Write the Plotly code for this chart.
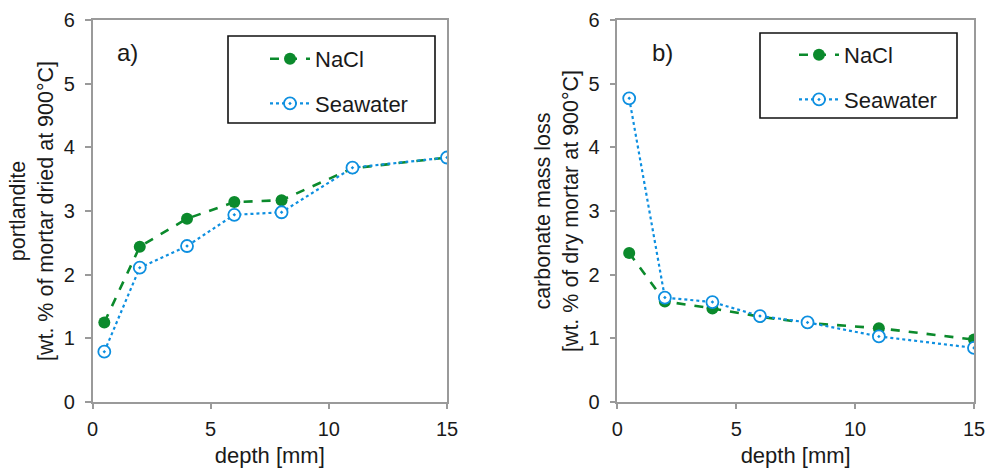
import plotly.graph_objects as go

# depth of each sampled layer [mm]
depth = [0.5, 2, 4, 6, 8, 11, 15]

# a) portlandite content [wt. % of mortar dried at 900 °C]
portlandite_nacl = [1.25, 2.44, 2.88, 3.14, 3.17, 3.67, 3.84]
portlandite_sea = [0.79, 2.11, 2.45, 2.94, 2.98, 3.68, 3.84]

# b) carbonate mass loss [wt. % of dry mortar at 900 °C]
carbonate_nacl = [2.34, 1.58, 1.47, 1.34, 1.24, 1.16, 0.98]
carbonate_sea = [4.77, 1.64, 1.57, 1.35, 1.25, 1.03, 0.85]

x_ticks = [0, 5, 10, 15]
y_ticks = [0, 1, 2, 3, 4, 5, 6]

GREEN = "#0b8a2c"
BLUE = "#0d8fe0"
AXIS = "#9a9a9a"
TEXT = "#1a1a1a"
FONT = "Liberation Sans, Arial, sans-serif"

fig = go.Figure()


def add_pair(nacl, sea, xa, ya, legend):
    fig.add_trace(go.Scatter(
        x=depth, y=nacl, name="NaCl", mode="lines+markers",
        line=dict(color=GREEN, width=2.6, dash="dash"),
        marker=dict(symbol="circle", size=12, color=GREEN),
        xaxis=xa, yaxis=ya, legend=legend, legendgroup=legend + "n",
    ))
    fig.add_trace(go.Scatter(
        x=depth, y=sea, name="Seawater", mode="lines+markers",
        line=dict(color=BLUE, width=2.2, dash="dot"),
        marker=dict(symbol="circle-dot", size=12, color="white",
                    line=dict(color=BLUE, width=1.8)),
        xaxis=xa, yaxis=ya, legend=legend, legendgroup=legend + "s",
    ))


add_pair(portlandite_nacl, portlandite_sea, "x", "y", "legend")
add_pair(carbonate_nacl, carbonate_sea, "x2", "y2", "legend2")

y_dom = [66 / 468, 448 / 468]
tick_font = dict(size=20, color=TEXT, family=FONT)
title_font = dict(size=22, color=TEXT, family=FONT)
ytitle_font = dict(size=21.5, color=TEXT, family=FONT)

common_x = dict(
    range=[0, 15], tickvals=x_ticks, showgrid=False, zeroline=False,
    showline=True, linecolor=AXIS, linewidth=1.5, mirror=True,
    ticks="outside", ticklen=5, tickcolor=AXIS, tickwidth=1.5,
    ticklabelstandoff=3, ticklabeloverflow="allow",
    tickfont=tick_font, automargin=False,
    title=dict(text="depth [mm]", font=title_font, standoff=15),
)
common_y = dict(
    range=[0, 6], tickvals=y_ticks, showgrid=False, zeroline=False,
    showline=True, linecolor=AXIS, linewidth=1.5, mirror=True,
    ticks="outside", ticklen=6, tickcolor=AXIS, tickwidth=1.5,
    ticklabelstandoff=6, ticklabeloverflow="allow",
    tickfont=tick_font, domain=y_dom, automargin=False,
)

legend_common = dict(
    bgcolor="rgba(0,0,0,0)", borderwidth=0,
    font=dict(size=22, color=TEXT, family=FONT),
    traceorder="grouped", tracegroupgap=13, itemwidth=40,
    xanchor="left", yanchor="top",
)

# legend frames
frames = [(228, 36, 435, 123), (760, 33, 957, 118)]
shapes = [
    dict(type="rect", xref="paper", yref="paper",
         x0=x0 / 985, x1=x1 / 985, y0=1 - y1 / 468, y1=1 - y0 / 468,
         line=dict(color="#111111", width=1.6), fillcolor="white", layer="below")
    for x0, y0, x1, y1 in frames
]

fig.update_layout(
    width=985, height=468,
    margin=dict(l=0, r=0, t=0, b=0, autoexpand=False),
    paper_bgcolor="white", plot_bgcolor="rgba(0,0,0,0)",
    font=dict(family=FONT, color=TEXT),
    showlegend=True,
    shapes=shapes,
    xaxis=dict(common_x, domain=[92.5 / 985, 447 / 985], anchor="y"),
    yaxis=dict(common_y, anchor="x",
               title=dict(text="portlandite<br>[wt. % of mortar dried at 900°C]",
                          font=ytitle_font, standoff=4)),
    xaxis2=dict(common_x, domain=[617.3 / 985, 974 / 985], anchor="y2"),
    yaxis2=dict(common_y, anchor="x2",
                title=dict(text="carbonate mass loss<br>[wt. % of dry mortar at 900°C]",
                           font=ytitle_font, standoff=4)),
    legend=dict(legend_common, x=265 / 985, y=1 - 38 / 468),
    legend2=dict(legend_common, x=794 / 985, y=1 - 34 / 468),
    annotations=[
        dict(text="a)", x=115 / 985, y=1 - 52 / 468, xref="paper", yref="paper",
             xanchor="left", yanchor="middle", showarrow=False,
             font=dict(size=24, color=TEXT, family=FONT)),
        dict(text="b)", x=650 / 985, y=1 - 52 / 468, xref="paper", yref="paper",
             xanchor="left", yanchor="middle", showarrow=False,
             font=dict(size=24, color=TEXT, family=FONT)),
    ],
)

fig.write_html("out.html")
